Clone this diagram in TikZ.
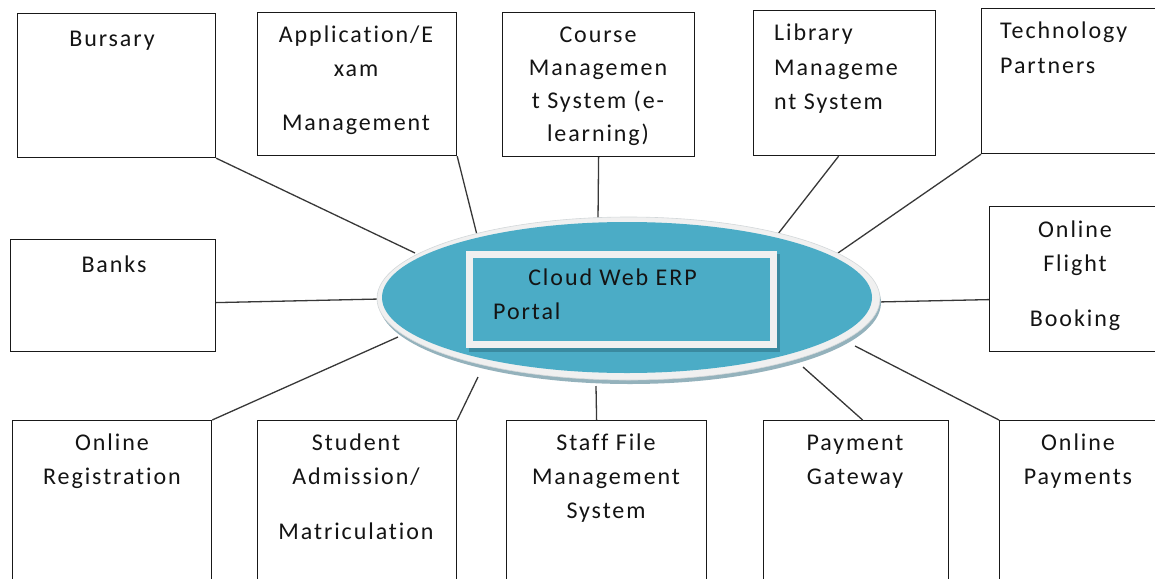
\documentclass[tikz,border=0pt]{standalone}
\usepackage{fontspec}
\setmainfont{Carlito}[LetterSpace=8,Ligatures={NoCommon,NoContextual,NoRequired}]
\usetikzlibrary{calc,shapes.geometric}
\definecolor{ablue}{HTML}{4BACC6}
\definecolor{rim}{HTML}{F0F0F0}
\definecolor{rimedge}{HTML}{D3D8DA}
\definecolor{eshadow}{HTML}{94B2BC}
\definecolor{dblue}{HTML}{3A8AA0}
\definecolor{ink}{HTML}{141414}
\begin{document}
\begin{tikzpicture}[x=1pt,y=-1pt,
  box/.style={draw=black!90, line width=1.2pt, rectangle, inner sep=0pt, anchor=north west},
  txt/.style={font=\fontsize{24}{28}\selectfont, text=ink, inner sep=0pt, anchor=base},
  txtl/.style={txt, anchor=base west},
  link/.style={draw=black!78, line width=1.3pt}]
\useasboundingbox (0,0) rectangle (1155,578);
\clip (0,0) rectangle (1155,578);
\fill[white] (0,0) rectangle (1155,578);

% boxes
\node[box, minimum width=198pt, minimum height=144pt] (bursary) at (17,13) {};
\node[box, minimum width=199pt, minimum height=143pt] (app) at (257,12) {};
\node[box, minimum width=192pt, minimum height=144pt] (course) at (502,12) {};
\node[box, minimum width=182pt, minimum height=145pt] (library) at (753,10) {};
\node[box, minimum width=190pt, minimum height=145pt] (tech) at (981,8) {};
\node[box, minimum width=205pt, minimum height=112pt] (banks) at (10,239) {};
\node[box, minimum width=176pt, minimum height=145pt] (flight) at (989,206) {};
\node[box, minimum width=199pt, minimum height=180pt] (onreg) at (12,420) {};
\node[box, minimum width=199pt, minimum height=180pt] (student) at (257,420) {};
\node[box, minimum width=200pt, minimum height=180pt] (staff) at (506,420) {};
\node[box, minimum width=185pt, minimum height=180pt] (payment) at (763,420) {};
\node[box, minimum width=162pt, minimum height=180pt] (onpay) at (999,420) {};

% connector ends at the hub
\coordinate (eBur) at (415,253);
\coordinate (eApp) at (478,239);
\coordinate (eCou) at (598,220);
\coordinate (eLib) at (774,239);
\coordinate (eTec) at (838,253);
\coordinate (eBan) at (380,299);
\coordinate (eFli) at (877,302);
\coordinate (eReg) at (398,337);
\coordinate (eStu) at (478,377);
\coordinate (eSta) at (596,386);
\coordinate (ePay) at (803,367);
\coordinate (eOnp) at (855,346);

\draw[link] (bursary.south east) -- (eBur);
\draw[link] (app.south east) -- (eApp);
\draw[link] (course.south) -- (eCou);
\draw[link] ($(library.south)+(-6,0)$) -- (eLib);
\draw[link] (tech.south west) -- (eTec);
\draw[link] ($(banks.east)+(0,7)$) -- (eBan);
\draw[link] ($(flight.west)+(0,20.5)$) -- (eFli);
\draw[link] (onreg.north east) -- (eReg);
\draw[link] (student.north east) -- (eStu);
\draw[link] ($(staff.north)+(-10,0)$) -- (eSta);
\draw[link] ($(payment.north)+(6.5,0)$) -- (ePay);
\draw[link] (onpay.north west) -- (eOnp);

% hub ellipse
\fill[eshadow] (630,302.5) ellipse [x radius=251pt, y radius=81.5pt];
\node[ellipse, fill=rim, draw=rimedge, line width=0.6pt, minimum width=503pt, minimum height=163pt, inner sep=0pt] (hub) at (628.5,298.5) {};
\fill[ablue] (627,297.5) ellipse [x radius=245pt, y radius=75.5pt];

% portal rectangle
\fill[dblue] (469,254) rectangle (780,352);
\node[rectangle, draw=rim, line width=7pt, fill=ablue, minimum width=304pt, minimum height=90pt, inner sep=0pt] (portal) at (621.5,299.5) {};
\node[txt] (portal1) at (612.5,285) {Cloud Web ERP};
\node[txtl] (portal2) at (493,319) {Portal};

% texts
\node[txt] (t-bur) at (112,46) {Bursary};

\node[txt] (t-app1) at (356,43) {Application/E};
\node[txt] (t-app2) at (356,77) {xam};
\node[txt] (t-app3) at (356,130) {Management};

\node[txt] (t-cou1) at (598,42) {Course};
\node[txt] (t-cou2) at (598,75) {Managemen};
\node[txt] (t-cou3) at (598,108) {t System (e-};
\node[txt] (t-cou4) at (598,141) {learning)};

\node[txtl] (t-lib1) at (774,41) {Library};
\node[txtl] (t-lib2) at (774,75) {Manageme};
\node[txtl] (t-lib3) at (774,109) {nt System};

\node[txtl] (t-tec1) at (1000,39) {Technology};
\node[txtl] (t-tec2) at (1000,74) {Partners};

\node[txt] (t-ban) at (114,272) {Banks};

\node[txt] (t-fli1) at (1075,237) {Online};
\node[txt] (t-fli2) at (1075,271) {Flight};
\node[txt] (t-fli3) at (1075,326) {Booking};

\node[txt] (t-reg1) at (112,450) {Online};
\node[txt] (t-reg2) at (112,484) {Registration};

\node[txt] (t-stu1) at (356,450) {Student};
\node[txt] (t-stu2) at (356,484) {Admission/};
\node[txt] (t-stu3) at (356,539) {Matriculation};

\node[txt] (t-sta1) at (606,450) {Staff File};
\node[txt] (t-sta2) at (606,484) {Management};
\node[txt] (t-sta3) at (606,518) {System};

\node[txt] (t-pay1) at (855,450) {Payment};
\node[txt] (t-pay2) at (855,484) {Gateway};

\node[txt] (t-onp1) at (1078,450) {Online};
\node[txt] (t-onp2) at (1078,484) {Payments};
\end{tikzpicture}
\end{document}
